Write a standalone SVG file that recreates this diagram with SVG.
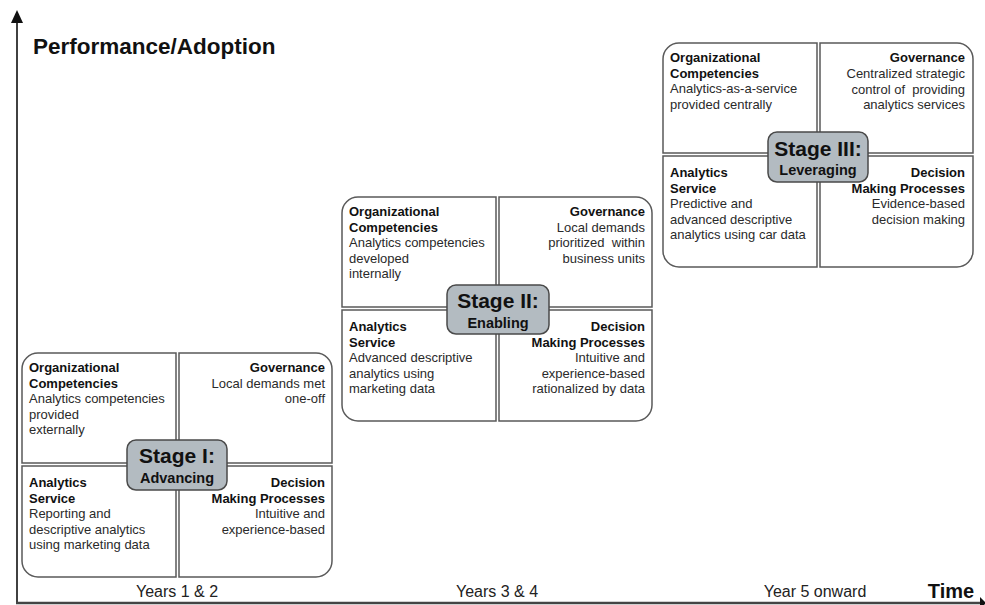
<svg xmlns="http://www.w3.org/2000/svg" width="985" height="605" viewBox="0 0 985 605">
  <defs>
    <style>
      text { font-family: "Liberation Sans", Arial, sans-serif; fill: #222; }
      .q { fill: #fff; stroke: #5a5a5a; stroke-width: 1.5; }
      .h { font-size: 13px; font-weight: bold; fill: #111; }
      .t { font-size: 13px; fill: #2a2a2a; }
      .r { text-anchor: end; }
      .lbl { fill: #b3bbc1; stroke: #4a4a4a; stroke-width: 1.5; }
      .st { font-size: 21px; font-weight: bold; text-anchor: middle; fill: #111; }
      .sub { font-size: 14.5px; font-weight: bold; text-anchor: middle; fill: #111; }
      .ax { font-size: 16px; text-anchor: middle; fill: #222; }
    </style>
    <g id="quads">
      <path class="q" d="M0,16 A16,16 0 0 1 16,0 H154 V110 H0 Z"/>
      <path class="q" d="M157,0 H294 A16,16 0 0 1 310,16 V110 H157 Z"/>
      <path class="q" d="M0,113 H154 V224 H16 A16,16 0 0 1 0,208 Z"/>
      <path class="q" d="M157,113 H310 V208 A16,16 0 0 1 294,224 H157 Z"/>
    </g>
  </defs>
  <rect width="985" height="605" fill="#fff"/>

  <g id="connectors">
    <line x1="17" y1="20" x2="17" y2="603" stroke="#111" stroke-width="1.6"/>
    <polygon points="17,10 11,23 23,23" fill="#111"/>
    <line x1="16" y1="603" x2="982" y2="603" stroke="#444" stroke-width="2.5"/>
    <polygon points="980,597 986,603 980,609" fill="#111"/>
  </g>

  <g id="axis-labels">
    <text x="33" y="54" style="font-size:22.5px;font-weight:bold;fill:#111">Performance/Adoption</text>
    <text class="ax" x="177" y="597">Years 1 &amp; 2</text>
    <text class="ax" x="497" y="597">Years 3 &amp; 4</text>
    <text class="ax" x="815" y="597">Year 5 onward</text>
    <text x="951" y="598" style="font-size:20px;font-weight:bold;text-anchor:middle;fill:#111">Time</text>
  </g>

  <g id="stage1" transform="translate(22,353)">
    <use href="#quads"/>
    <g id="stage1-org">
      <text class="h" x="7" y="19">Organizational</text>
      <text class="h" x="7" y="34.5">Competencies</text>
      <text class="t" x="7" y="50">Analytics competencies</text>
      <text class="t" x="7" y="65.5">provided</text>
      <text class="t" x="7" y="81">externally</text>
    </g>
    <g id="stage1-gov">
      <text class="h r" x="303" y="19">Governance</text>
      <text class="t r" x="303" y="34.5">Local demands met</text>
      <text class="t r" x="303" y="50">one-off</text>
    </g>
    <g id="stage1-svc">
      <text class="h" x="7" y="134">Analytics</text>
      <text class="h" x="7" y="149.5">Service</text>
      <text class="t" x="7" y="165">Reporting and</text>
      <text class="t" x="7" y="180.5">descriptive analytics</text>
      <text class="t" x="7" y="196">using marketing data</text>
    </g>
    <g id="stage1-dec">
      <text class="h r" x="303" y="134">Decision</text>
      <text class="h r" x="303" y="149.5">Making Processes</text>
      <text class="t r" x="303" y="165">Intuitive and</text>
      <text class="t r" x="303" y="180.5">experience-based</text>
    </g>
    <g id="stage1-label">
      <rect class="lbl" x="105" y="87" width="100" height="50" rx="9"/>
      <text class="st" x="155" y="110">Stage I:</text>
      <text class="sub" x="155" y="130">Advancing</text>
    </g>
  </g>

  <g id="stage2" transform="translate(342,197)">
    <use href="#quads"/>
    <g id="stage2-org">
      <text class="h" x="7" y="19">Organizational</text>
      <text class="h" x="7" y="34.5">Competencies</text>
      <text class="t" x="7" y="50">Analytics competencies</text>
      <text class="t" x="7" y="65.5">developed</text>
      <text class="t" x="7" y="81">internally</text>
    </g>
    <g id="stage2-gov">
      <text class="h r" x="303" y="19">Governance</text>
      <text class="t r" x="303" y="34.5">Local demands</text>
      <text class="t r" x="303" y="50" xml:space="preserve">prioritized  within</text>
      <text class="t r" x="303" y="65.5">business units</text>
    </g>
    <g id="stage2-svc">
      <text class="h" x="7" y="134">Analytics</text>
      <text class="h" x="7" y="149.5">Service</text>
      <text class="t" x="7" y="165">Advanced descriptive</text>
      <text class="t" x="7" y="180.5">analytics using</text>
      <text class="t" x="7" y="196">marketing data</text>
    </g>
    <g id="stage2-dec">
      <text class="h r" x="303" y="134">Decision</text>
      <text class="h r" x="303" y="149.5">Making Processes</text>
      <text class="t r" x="303" y="165">Intuitive and</text>
      <text class="t r" x="303" y="180.5">experience-based</text>
      <text class="t r" x="303" y="196">rationalized by data</text>
    </g>
    <g id="stage2-label">
      <rect class="lbl" x="105" y="88" width="102" height="49" rx="9"/>
      <text class="st" x="156" y="111">Stage II:</text>
      <text class="sub" x="156" y="131">Enabling</text>
    </g>
  </g>

  <g id="stage3" transform="translate(663,43)">
    <use href="#quads"/>
    <g id="stage3-org">
      <text class="h" x="7" y="19">Organizational</text>
      <text class="h" x="7" y="34.5">Competencies</text>
      <text class="t" x="7" y="50">Analytics-as-a-service</text>
      <text class="t" x="7" y="65.5">provided centrally</text>
    </g>
    <g id="stage3-gov">
      <text class="h r" x="302" y="19">Governance</text>
      <text class="t r" x="302" y="35">Centralized strategic</text>
      <text class="t r" x="302" y="50.5" xml:space="preserve">control of  providing</text>
      <text class="t r" x="302" y="66">analytics services</text>
    </g>
    <g id="stage3-svc">
      <text class="h" x="7" y="134">Analytics</text>
      <text class="h" x="7" y="149.5">Service</text>
      <text class="t" x="7" y="165">Predictive and</text>
      <text class="t" x="7" y="180.5">advanced descriptive</text>
      <text class="t" x="7" y="196">analytics using car data</text>
    </g>
    <g id="stage3-dec">
      <text class="h r" x="302" y="134">Decision</text>
      <text class="h r" x="302" y="149.5">Making Processes</text>
      <text class="t r" x="302" y="165">Evidence-based</text>
      <text class="t r" x="302" y="180.5">decision making</text>
    </g>
    <g id="stage3-label">
      <rect class="lbl" x="105" y="89" width="100" height="50" rx="9"/>
      <text class="st" x="155" y="113">Stage III:</text>
      <text class="sub" x="155" y="132">Leveraging</text>
    </g>
  </g>
</svg>
